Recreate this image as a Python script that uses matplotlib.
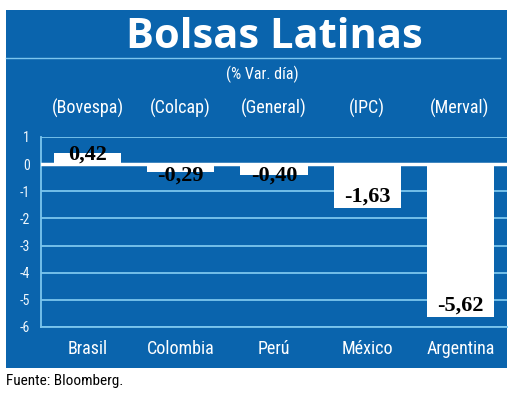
import matplotlib
matplotlib.use('Agg')
import matplotlib.pyplot as plt
from matplotlib.patches import Rectangle
from matplotlib.lines import Line2D

paises = ['Brasil', 'Colombia', 'Perú', 'México', 'Argentina']
indices = ['(Bovespa)', '(Colcap)', '(General)', '(IPC)', '(Merval)']
variacion = [0.42, -0.29, -0.40, -1.63, -5.62]
yticks = [1, 0, -1, -2, -3, -4, -5, -6]

AZUL = '#0a64ad'
CELESTE = '#7cc6ee'
NARROW = ['Roboto Condensed', 'Liberation Sans Narrow', 'Roboto', 'DejaVu Sans']
W, H = 520, 407

fig = plt.figure(figsize=(W / 100, H / 100), dpi=100)
fig.patch.set_facecolor('white')

# panel azul de fondo
fig.patches.append(Rectangle((6 / W, 1 - 368 / H), 501 / W, 358 / H,
                             transform=fig.transFigure, facecolor=AZUL,
                             edgecolor='none', zorder=-5))
fig.lines.append(Line2D([6 / W, 500 / W], [1 - 58 / H, 1 - 58 / H],
                        transform=fig.transFigure, color=CELESTE, lw=1, zorder=-4))

fig.text(274 / W, 1 - 38 / H, 'Bolsas Latinas', ha='center', va='center',
         color='white', fontsize=30, fontweight='bold', family=['Open Sans', 'DejaVu Sans'])
fig.text(262 / W, 1 - 74 / H, '(% Var. día)', ha='center', va='center',
         color='white', fontsize=11.5, family=NARROW)
fig.text(6 / W, 1 - 381 / H, 'Fuente: Bloomberg.', ha='left', va='center',
         color='black', fontsize=11, family=NARROW)

ax = fig.add_axes([41 / W, 1 - 327 / H, 466 / W, 190 / H], zorder=5)
ax.set_facecolor('none')
ax.set_xlim(-0.5, 4.5)
ax.set_ylim(-6, 1)

x = list(range(len(paises)))
for yt in yticks:
    if yt != 0:
        ax.axhline(yt, color=CELESTE, lw=1.3, zorder=1)
ax.bar(x, variacion, width=0.72, color='white', edgecolor='none', zorder=2)
ax.axhline(0, color='white', lw=2.5, zorder=3)

for xi, v in zip(x, variacion):
    if v >= 0:
        yc = v - 0.05
    else:
        yc = min(v + 0.42, -0.41)
    ax.text(xi, yc, f'{v:.2f}'.replace('.', ','), ha='center', va='center',
            fontsize=16, fontweight='bold', color='black',
            family=['Liberation Serif', 'DejaVu Serif'], zorder=4)

for xi, idx in zip(x, indices):
    fig.text((41 + 93 * xi + 46.5) / W, 1 - 108 / H, idx, ha='center', va='center',
             color='white', fontsize=13, family=NARROW)

ax.set_yticks(yticks)
ax.set_yticklabels([str(t) for t in yticks], color='#eef6fc', fontsize=10, family=NARROW)
ax.tick_params(axis='y', length=0, pad=8)
ax.set_xticks(x)
ax.set_xticklabels(paises, color='white', fontsize=13, family=NARROW)
ax.tick_params(axis='x', length=0, pad=9)

for side in ['top', 'right']:
    ax.spines[side].set_visible(False)
for side in ['left', 'bottom']:
    ax.spines[side].set_color(CELESTE)
    ax.spines[side].set_linewidth(1.3)

fig.savefig('out.png', dpi=100)
